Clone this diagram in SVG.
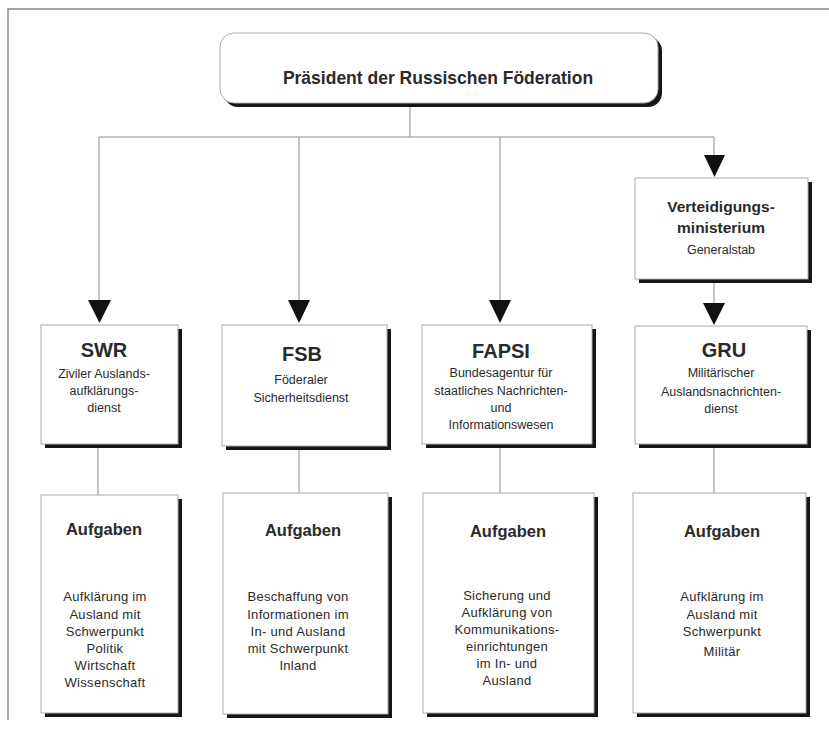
<svg xmlns="http://www.w3.org/2000/svg" width="829" height="729" viewBox="0 0 829 729">
<style>
  .frame{stroke:#8a8a8a;stroke-width:1.5;fill:none}
  .box{fill:#fff;stroke:#a8a8a8;stroke-width:1}
  .shadow{fill:#161616}
  .line{stroke:#8c8c8c;stroke-width:1;fill:none}
  .arrow{fill:#111}
  text{font-family:"Liberation Sans",Arial,Helvetica,sans-serif;fill:#2a2a2a;text-anchor:middle}
  .t1{font-size:17.5px;font-weight:bold}
  .t2{font-size:20px;font-weight:bold}
  .t3{font-size:16.5px;font-weight:bold}
  .t4{font-size:15.5px;font-weight:bold}
  .s{font-size:12.5px}
  .b{font-size:13px;letter-spacing:0.3px}
</style>
<rect width="829" height="729" fill="#fff"/>
<path class="frame" d="M8,720 V9 H829"/>

<g id="connectors">
  <path class="line" d="M410,107 V137 M99,137 H714 M99,137 V300 M299,137 V300 M500,137 V300 M714,137 V155 M714,283 V303 M98,448 V495 M299,450 V493 M500,448 V493 M714,448 V493"/>
  <polygon class="arrow" points="88,300 111,300 99.5,323"/>
  <polygon class="arrow" points="288,300 310,300 299,323"/>
  <polygon class="arrow" points="489,300 511,300 500,323"/>
  <polygon class="arrow" points="704,155 725,155 714.5,177"/>
  <polygon class="arrow" points="703,303 725,303 714,325"/>
</g>

<g id="praesident">
  <rect class="shadow" x="224" y="37" width="438" height="70" rx="14"/>
  <rect class="box" x="220" y="33" width="438" height="70" rx="14"/>
  <text class="t1" x="438" y="84">Präsident der Russischen Föderation</text>
</g>

<g id="verteidigungsministerium">
  <rect class="shadow" x="639" y="182" width="173" height="101"/>
  <rect class="box" x="635" y="178" width="173" height="101"/>
  <text class="t4" x="721" y="212">Verteidigungs-</text>
  <text class="t4" x="721" y="233">ministerium</text>
  <text class="s" x="721" y="254">Generalstab</text>
</g>

<g id="swr">
  <rect class="shadow" x="45" y="329" width="137" height="119"/>
  <rect class="box" x="41" y="325" width="137" height="119"/>
  <text class="t2" x="104" y="357">SWR</text>
  <text class="s" x="104" y="378">Ziviler Auslands-</text>
  <text class="s" x="104" y="395">aufklärungs-</text>
  <text class="s" x="104" y="412">dienst</text>
</g>

<g id="fsb">
  <rect class="shadow" x="226" y="329" width="165" height="121"/>
  <rect class="box" x="222" y="325" width="165" height="121"/>
  <text class="t2" x="302" y="361">FSB</text>
  <text class="s" x="301" y="384">Föderaler</text>
  <text class="s" x="301" y="402">Sicherheitsdienst</text>
</g>

<g id="fapsi">
  <rect class="shadow" x="426" y="329" width="170" height="119"/>
  <rect class="box" x="422" y="325" width="170" height="119"/>
  <text class="t2" x="501" y="358">FAPSI</text>
  <text class="s" x="501" y="377">Bundesagentur für</text>
  <text class="s" x="501" y="395">staatliches Nachrichten-</text>
  <text class="s" x="501" y="412">und</text>
  <text class="s" x="501" y="429">Informationswesen</text>
</g>

<g id="gru">
  <rect class="shadow" x="639" y="330" width="172" height="118"/>
  <rect class="box" x="635" y="326" width="172" height="118"/>
  <text class="t2" x="724" y="357">GRU</text>
  <text class="s" x="721" y="377">Militärischer</text>
  <text class="s" x="721" y="396">Auslandsnachrichten-</text>
  <text class="s" x="721" y="413">dienst</text>
</g>

<g id="aufgaben-swr">
  <rect class="shadow" x="45" y="499" width="137" height="218"/>
  <rect class="box" x="41" y="495" width="137" height="218"/>
  <text class="t3" x="104" y="535">Aufgaben</text>
  <text class="b" x="105" y="601">Aufklärung im</text>
  <text class="b" x="105" y="619">Ausland mit</text>
  <text class="b" x="105" y="636">Schwerpunkt</text>
  <text class="b" x="105" y="653">Politik</text>
  <text class="b" x="105" y="670">Wirtschaft</text>
  <text class="b" x="105" y="687">Wissenschaft</text>
</g>

<g id="aufgaben-fsb">
  <rect class="shadow" x="227" y="497" width="165" height="221"/>
  <rect class="box" x="223" y="493" width="165" height="221"/>
  <text class="t3" x="303" y="536">Aufgaben</text>
  <text class="b" x="298" y="601">Beschaffung von</text>
  <text class="b" x="298" y="619">Informationen im</text>
  <text class="b" x="298" y="636">In- und Ausland</text>
  <text class="b" x="298" y="653">mit Schwerpunkt</text>
  <text class="b" x="298" y="670">Inland</text>
</g>

<g id="aufgaben-fapsi">
  <rect class="shadow" x="427" y="497" width="171" height="220"/>
  <rect class="box" x="423" y="493" width="171" height="220"/>
  <text class="t3" x="508" y="537">Aufgaben</text>
  <text class="b" x="507" y="600">Sicherung und</text>
  <text class="b" x="507" y="617">Aufklärung von</text>
  <text class="b" x="507" y="634">Kommunikations-</text>
  <text class="b" x="507" y="651">einrichtungen</text>
  <text class="b" x="507" y="668">im In- und</text>
  <text class="b" x="507" y="685">Ausland</text>
</g>

<g id="aufgaben-gru">
  <rect class="shadow" x="637" y="497" width="173" height="220"/>
  <rect class="box" x="633" y="493" width="173" height="220"/>
  <text class="t3" x="722" y="537">Aufgaben</text>
  <text class="b" x="722" y="601">Aufklärung im</text>
  <text class="b" x="722" y="619">Ausland mit</text>
  <text class="b" x="722" y="636">Schwerpunkt</text>
  <text class="b" x="722" y="656">Militär</text>
</g>
</svg>
